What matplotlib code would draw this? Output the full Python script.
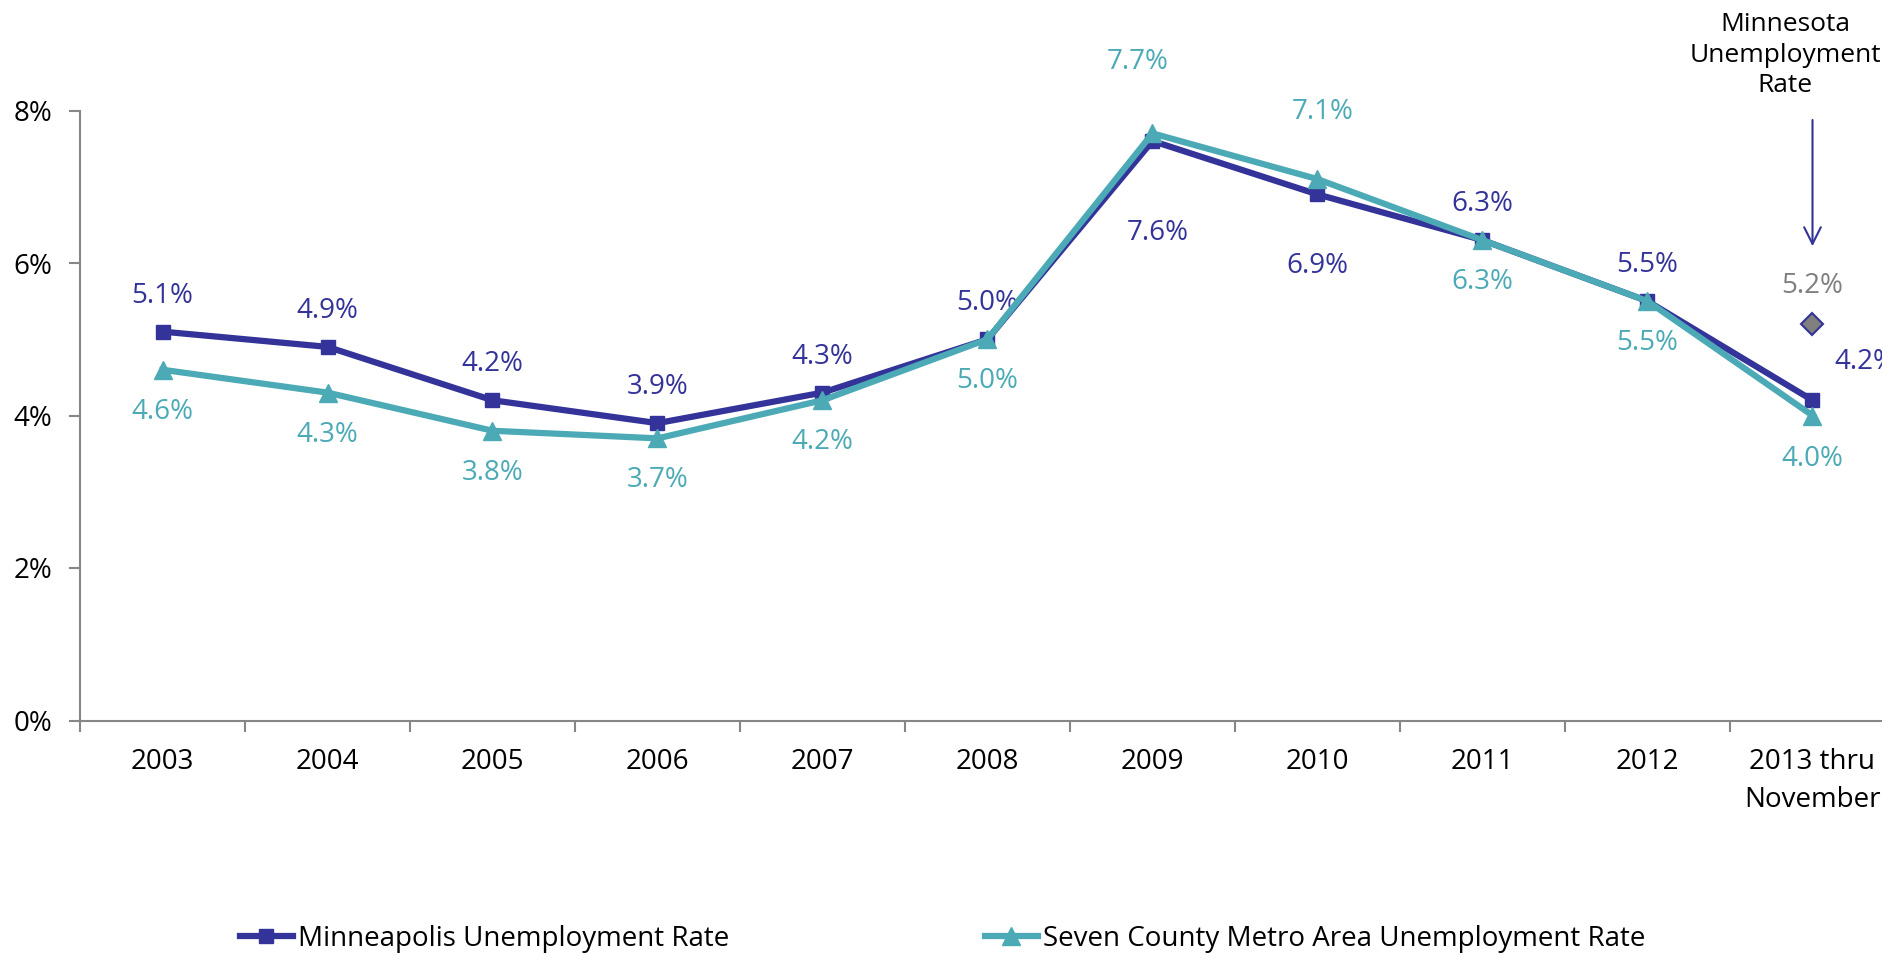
import numpy as np
import matplotlib.pyplot as plt
from matplotlib.lines import Line2D
from matplotlib.ticker import FuncFormatter

plt.rcParams['font.family'] = ['Open Sans', 'DejaVu Sans']

# Data (percent)
years = ['2003', '2004', '2005', '2006', '2007', '2008', '2009', '2010',
         '2011', '2012', '2013 thru\nNovember']
mpls_rate = [5.1, 4.9, 4.2, 3.9, 4.3, 5.0, 7.6, 6.9, 6.3, 5.5, 4.2]
metro_rate = [4.6, 4.3, 3.8, 3.7, 4.2, 5.0, 7.7, 7.1, 6.3, 5.5, 4.0]
mn_rate_2013 = 5.2

BLUE = '#333399'
TEAL = '#4BAAB5'
GRAY = '#7F7F7F'
AXIS = '#868686'

# label offsets in pixels (dx, dy)
mpls_offsets = [(0, 36)] * 6 + [(5, -92), (0, -72), (0, 36), (0, 36), (22, 38)]
metro_offsets = [(0, -42)] * 6 + [(-15, 71), (5, 67), (0, -42), (0, -42), (0, -43)]

fig = plt.figure(figsize=(18.83, 9.59), dpi=100)
ax = fig.add_axes([80 / 1883, 1 - 720.5 / 959, 1815 / 1883, 610 / 959])

x = np.arange(len(years))
ax.plot(x, mpls_rate, color=BLUE, lw=4.5, marker='s', ms=10, zorder=3)
ax.plot(x, metro_rate, color=TEAL, lw=4.5, marker='^', ms=13, zorder=4)
ax.plot(x[-1], mn_rate_2013, linestyle='none', marker='D', ms=11,
        markerfacecolor='#808080', markeredgecolor=BLUE, markeredgewidth=1.5, zorder=5)

for i, v in enumerate(mpls_rate):
    dx, dy = mpls_offsets[i]
    ax.annotate(f'{v:.1f}%', (x[i], v), xytext=(dx, dy), textcoords='offset pixels',
                ha='left' if i == len(x) - 1 else 'center', va='center',
                fontsize=20, color=BLUE, annotation_clip=False)
for i, v in enumerate(metro_rate):
    dx, dy = metro_offsets[i]
    ax.annotate(f'{v:.1f}%', (x[i], v), xytext=(dx, dy), textcoords='offset pixels',
                ha='center', va='center', fontsize=20, color=TEAL, annotation_clip=False)

ax.annotate(f'{mn_rate_2013:.1f}%', (x[-1], mn_rate_2013), xytext=(0, 38),
            textcoords='offset pixels', ha='center', va='center', fontsize=20, color=GRAY)

# Minnesota arrow + note
ax.annotate('', xy=(x[-1], mn_rate_2013), xytext=(0, 204), textcoords='offset pixels',
            arrowprops=dict(arrowstyle='->', color=BLUE, lw=1.5,
                            mutation_scale=30, shrinkA=0, shrinkB=56),
            annotation_clip=False)
fig.text(1785 / 1883, 1 - 55 / 959, 'Minnesota\nUnemployment\nRate', ha='center', va='center',
         fontsize=19, linespacing=1.3, color='black')

ax.set_xlim(-0.5, len(years) - 0.5)
ax.set_ylim(0, 8)
ax.set_yticks([0, 2, 4, 6, 8])
ax.yaxis.set_major_formatter(FuncFormatter(lambda v, p: f'{v:.0f}%'))

ax.set_xticks(np.arange(-0.5, len(years), 1.0))
ax.set_xticklabels([])
ax.set_xticks(x, minor=True)
ax.set_xticklabels(years, minor=True, fontsize=20, linespacing=1.45)
ax.tick_params(axis='x', which='major', length=8, width=1.5, color=AXIS, direction='out')
ax.tick_params(axis='x', which='minor', length=0, pad=20)
ax.tick_params(axis='y', length=8, width=1.5, color=AXIS, labelsize=20, pad=12)

for side in ['top', 'right']:
    ax.spines[side].set_visible(False)
for side in ['left', 'bottom']:
    ax.spines[side].set_color(AXIS)
    ax.spines[side].set_linewidth(1.5)

# legend
h1 = Line2D([], [], color=BLUE, lw=4.5, marker='s', ms=10)
h2 = Line2D([], [], color=TEAL, lw=4.5, marker='^', ms=13)
fig.legend([h1], ['Minneapolis Unemployment Rate'], loc='center left',
           bbox_to_anchor=(240 / 1883, 0.021), frameon=False, fontsize=20,
           handlelength=1.9, handletextpad=0.2, borderpad=0, borderaxespad=0)
fig.legend([h2], ['Seven County Metro Area Unemployment Rate'], loc='center left',
           bbox_to_anchor=(985 / 1883, 0.021), frameon=False, fontsize=20,
           handlelength=1.9, handletextpad=0.2, borderpad=0, borderaxespad=0)

plt.savefig('out.png', dpi=100)
